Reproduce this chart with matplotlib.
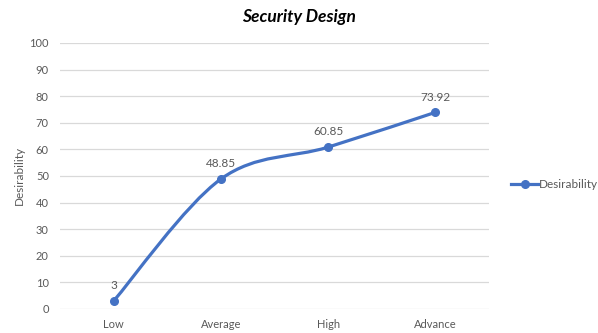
import matplotlib
matplotlib.use("Agg")
import matplotlib.pyplot as plt
from matplotlib.path import Path
from matplotlib.patches import PathPatch
from matplotlib.lines import Line2D
import numpy as np

categories = ["Low", "Average", "High", "Advance"]
values = [3, 48.85, 60.85, 73.92]
labels = ["3", "48.85", "60.85", "73.92"]
yticks = [0, 10, 20, 30, 40, 50, 60, 70, 80, 90, 100]

plt.rcParams['font.family'] = ['Lato', 'DejaVu Sans']
COLOR = "#4472C4"
GRAY = "#595959"

fig = plt.figure(figsize=(5.98, 3.33), dpi=100)
ax = fig.add_axes([0.1003, 0.0721, 0.7174, 0.7988])

x = np.arange(len(categories), dtype=float)
y = np.array(values, dtype=float)

# Smoothed line (Catmull-Rom style Bezier, like Excel smoothing)
verts = [(x[0], y[0])]
codes = [Path.MOVETO]
n = len(x)
for i in range(n - 1):
    p0 = (x[max(i - 1, 0)], y[max(i - 1, 0)])
    p1 = (x[i], y[i])
    p2 = (x[i + 1], y[i + 1])
    p3 = (x[min(i + 2, n - 1)], y[min(i + 2, n - 1)])
    c1 = (p1[0] + (p2[0] - p0[0]) / 6, p1[1] + (p2[1] - p0[1]) / 6)
    c2 = (p2[0] - (p3[0] - p1[0]) / 6, p2[1] - (p3[1] - p1[1]) / 6)
    verts += [c1, c2, p2]
    codes += [Path.CURVE4] * 3
ax.add_patch(PathPatch(Path(verts, codes), facecolor="none", edgecolor=COLOR,
                       lw=2.3, capstyle="round", joinstyle="round", zorder=3))
ax.plot(x, y, linestyle="none", marker="o", ms=5.5, color=COLOR, zorder=4)

for xi, yi, lab in zip(x, y, labels):
    ax.annotate(lab, (xi, yi), xytext=(0, 7), textcoords="offset points",
                ha="center", va="bottom", fontsize=8.5, color=GRAY)

ax.set_xlim(-0.5, n - 0.5)
ax.set_ylim(0, 100)
ax.set_yticks(yticks)
ax.set_xticks(x)
ax.set_xticklabels(categories)
ax.tick_params(axis="both", length=0, labelsize=8, colors=GRAY)
ax.tick_params(axis="y", pad=8)
ax.tick_params(axis="x", pad=7.5)
ax.grid(axis="y", color="#D9D9D9", lw=0.9)
ax.set_axisbelow(True)
for s in ax.spines.values():
    s.set_visible(False)

ax.set_ylabel("Desirability", fontsize=8.5, color=GRAY, labelpad=3)
fig.text(0.5, 0.949, "Security Design", ha="center", va="center",
         fontsize=12.5, fontweight="bold", fontstyle="italic", color="black")

handle = Line2D([], [], color=COLOR, lw=2.3, marker="o", ms=5.5)
fig.legend([handle], ["Desirability"], loc="center left",
           bbox_to_anchor=(0.837, 0.447), frameon=False, fontsize=8.5,
           handlelength=2.3, handletextpad=0.05, labelcolor=GRAY)

fig.savefig("out.png", dpi=100)
